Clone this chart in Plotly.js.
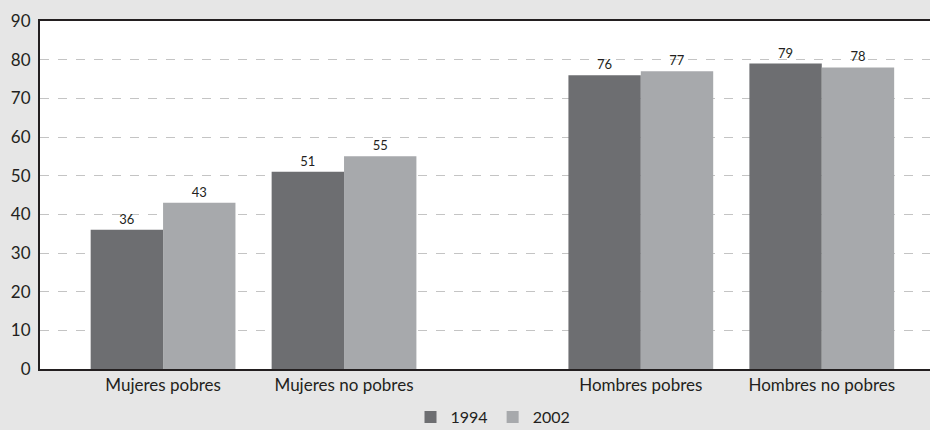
<!DOCTYPE html>
<html>
<head>
<meta charset="utf-8">
<script src="https://cdn.plot.ly/plotly-3.0.1.min.js"></script>
<style>html,body{margin:0;padding:0;background:#e6e6e6;}#chart{width:930px;height:430px;}</style>
</head>
<body>
<div id="chart"></div>
<script>
// Data
var categories = ["Mujeres pobres", "Mujeres no pobres", "Hombres pobres", "Hombres no pobres"];
var series1994 = [36, 51, 76, 79];
var series2002 = [43, 55, 77, 78];
var seriesNames = ["1994", "2002"];
var yTicks = [0, 10, 20, 30, 40, 50, 60, 70, 80, 90];

// Layout positions (group centers on a numeric axis, with a gap between women and men)
var groupPos = [0, 1, 2.64, 3.64];

var font = "Lato, 'Open Sans', sans-serif";
var ink = "#231f20";

var traces = [
  {type: "bar", name: seriesNames[0], x: groupPos, y: series1994,
   marker: {color: "#6d6e71"}, text: series1994.map(String), textposition: "outside",
   textfont: {family: font, size: 13, color: ink}, cliponaxis: false, hoverinfo: "none"},
  {type: "bar", name: seriesNames[1], x: groupPos, y: series2002,
   marker: {color: "#a7a9ac"}, text: series2002.map(String), textposition: "outside",
   textfont: {family: font, size: 13, color: ink}, cliponaxis: false, hoverinfo: "none"}
];

var layout = {
  width: 930, height: 430,
  paper_bgcolor: "#e6e6e6", plot_bgcolor: "#ffffff",
  margin: {l: 40, r: 0, t: 21, b: 61, pad: 0, autoexpand: false},
  font: {family: font, color: ink, size: 17},
  barmode: "group", bargap: 0.2, bargroupgap: 0,
  showlegend: true,
  legend: {orientation: "h", x: 0.509, xanchor: "center", y: -0.138, yanchor: "middle",
           font: {family: font, size: 16, color: ink}, bgcolor: "rgba(0,0,0,0)",
           traceorder: "normal", itemwidth: 30, tracegroupgap: 0},
  xaxis: {range: [-0.68, 4.238], tickvals: groupPos, ticktext: categories,
          showgrid: false, zeroline: false, showline: true, linecolor: ink, linewidth: 2,
          mirror: true, ticks: "", tickfont: {family: font, size: 17, color: ink}},
  yaxis: {range: [0, 90], tickvals: yTicks, showgrid: true, gridcolor: "#c4c4c4",
          griddash: "dash", gridwidth: 1, zeroline: false, showline: true, linecolor: ink,
          linewidth: 2, ticks: "", ticklabelstandoff: 4,
          tickfont: {family: font, size: 17, color: ink}}
};

Plotly.newPlot("chart", traces, layout, {displayModeBar: false, staticPlot: true});
</script>
</body>
</html>
